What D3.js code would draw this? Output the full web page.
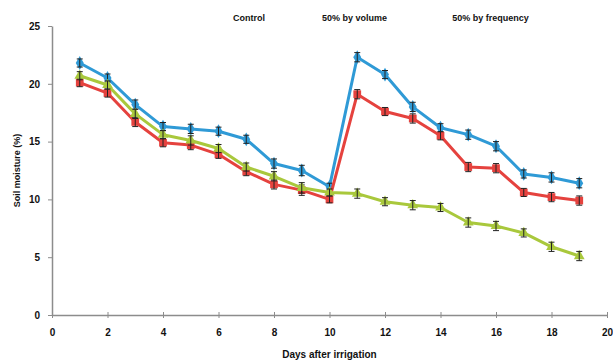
<!DOCTYPE html>
<html>
<head>
<meta charset="utf-8">
<script src="https://cdn.jsdelivr.net/npm/d3@7"></script>
<style>
  body { margin: 0; background: #fff; }
  text { font-family: "Liberation Sans", Arial, sans-serif; font-weight: bold; fill: #111; }
</style>
</head>
<body>
<div id="chart"></div>
<script>
const width = 613, height = 362;
const margin = {top: 26, right: 6, bottom: 47, left: 52};

const days = [1, 2, 3, 4, 5, 6, 7, 8, 9, 10, 11, 12, 13, 14, 15, 16, 17, 18, 19];
const blueValues = [21.8, 20.5, 18.2, 16.3, 16.1, 15.9, 15.2, 13.1, 12.5, 11.1, 22.3, 20.8, 18.0, 16.2, 15.6, 14.6, 12.2, 11.9, 11.4];
const redValues = [20.1, 19.2, 16.7, 14.9, 14.7, 13.9, 12.4, 11.3, 10.8, 10.0, 19.1, 17.6, 17.0, 15.5, 12.8, 12.7, 10.6, 10.2, 9.9];
const greenValues = [20.7, 19.9, 17.4, 15.6, 15.1, 14.4, 12.8, 12.0, 11.0, 10.6, 10.5, 9.8, 9.5, 9.3, 8.0, 7.7, 7.1, 5.9, 5.1];
const errValues = [0.35, 0.35, 0.4, 0.35, 0.4, 0.35, 0.35, 0.4, 0.45, 0.3, 0.4, 0.35, 0.4, 0.35, 0.4, 0.4, 0.35, 0.4, 0.4];
const legendLabels = ["Control", "50% by volume", "50% by frequency"];
const xTicks = [0, 2, 4, 6, 8, 10, 12, 14, 16, 18, 20];
const yTicks = [0, 5, 10, 15, 20, 25];

const series = [
  {values: blueValues, color: "#2f9ad6", marker: d3.symbolDiamond, size: 55},
  {values: redValues, color: "#e5423e", marker: d3.symbolSquare, size: 60},
  {values: greenValues, color: "#a9c83c", marker: d3.symbolTriangle, size: 50}
];

const svg = d3.select("#chart").append("svg")
  .attr("width", width)
  .attr("height", height);

const x = d3.scaleLinear().domain([0, 20]).range([margin.left, width - margin.right]);
const y = d3.scaleLinear().domain([0, 25]).range([height - margin.bottom, margin.top]);

// axes
const xAxis = svg.append("g")
  .attr("transform", `translate(0, ${y(0)})`)
  .call(d3.axisBottom(x).tickValues(xTicks).tickSize(4).tickSizeOuter(0).tickPadding(10));
xAxis.select(".domain").attr("stroke", "#8c8c8c").attr("stroke-width", 1.5);
xAxis.selectAll(".tick line").attr("stroke", "#8c8c8c").attr("y1", -3).attr("y2", 3);
xAxis.selectAll(".tick text").style("font-size", "10px");

const yAxis = svg.append("g")
  .attr("transform", `translate(${margin.left}, 0)`)
  .call(d3.axisLeft(y).tickValues(yTicks).tickSize(4).tickSizeOuter(0).tickPadding(8));
yAxis.select(".domain").attr("stroke", "#8c8c8c").attr("stroke-width", 1.5);
yAxis.selectAll(".tick line").attr("stroke", "#8c8c8c");
yAxis.selectAll(".tick text").style("font-size", "10px");

// axis titles
svg.append("text")
  .attr("x", x(10))
  .attr("y", height - 4)
  .attr("text-anchor", "middle")
  .style("font-size", "10px")
  .text("Days after irrigation");

svg.append("text")
  .attr("transform", `translate(20, ${y(12.5)}) rotate(-90)`)
  .attr("text-anchor", "middle")
  .style("font-size", "9px")
  .text("Soil moisture (%)");

// legend labels
const legendX = [7.1, 10.9, 15.8];
svg.selectAll(".legend")
  .data(legendLabels)
  .enter()
  .append("text")
  .attr("class", "legend")
  .attr("x", (d, i) => x(legendX[i]))
  .attr("y", 21)
  .attr("text-anchor", "middle")
  .style("font-size", "9px")
  .text(d => d);

const line = d3.line()
  .x((d, i) => x(days[i]))
  .y(d => y(d));

series.forEach(s => {
  const g = svg.append("g");

  g.append("path")
    .datum(s.values)
    .attr("fill", "none")
    .attr("stroke", s.color)
    .attr("stroke-width", 3)
    .attr("stroke-linejoin", "round")
    .attr("d", line);

  g.selectAll(".marker")
    .data(s.values)
    .enter()
    .append("path")
    .attr("class", "marker")
    .attr("transform", (d, i) => `translate(${x(days[i])}, ${y(d)})`)
    .attr("d", d3.symbol().type(s.marker).size(s.size))
    .attr("fill", s.color);

  // error bars
  const eb = g.selectAll(".err")
    .data(s.values)
    .enter()
    .append("g")
    .attr("class", "err")
    .attr("stroke", "#222")
    .attr("stroke-width", 1);
  eb.append("line")
    .attr("x1", (d, i) => x(days[i]))
    .attr("x2", (d, i) => x(days[i]))
    .attr("y1", (d, i) => y(d + errValues[i]))
    .attr("y2", (d, i) => y(d - errValues[i]));
  eb.append("line")
    .attr("x1", (d, i) => x(days[i]) - 3)
    .attr("x2", (d, i) => x(days[i]) + 3)
    .attr("y1", (d, i) => y(d + errValues[i]))
    .attr("y2", (d, i) => y(d + errValues[i]));
  eb.append("line")
    .attr("x1", (d, i) => x(days[i]) - 3)
    .attr("x2", (d, i) => x(days[i]) + 3)
    .attr("y1", (d, i) => y(d - errValues[i]))
    .attr("y2", (d, i) => y(d - errValues[i]));
});
</script>
</body>
</html>
